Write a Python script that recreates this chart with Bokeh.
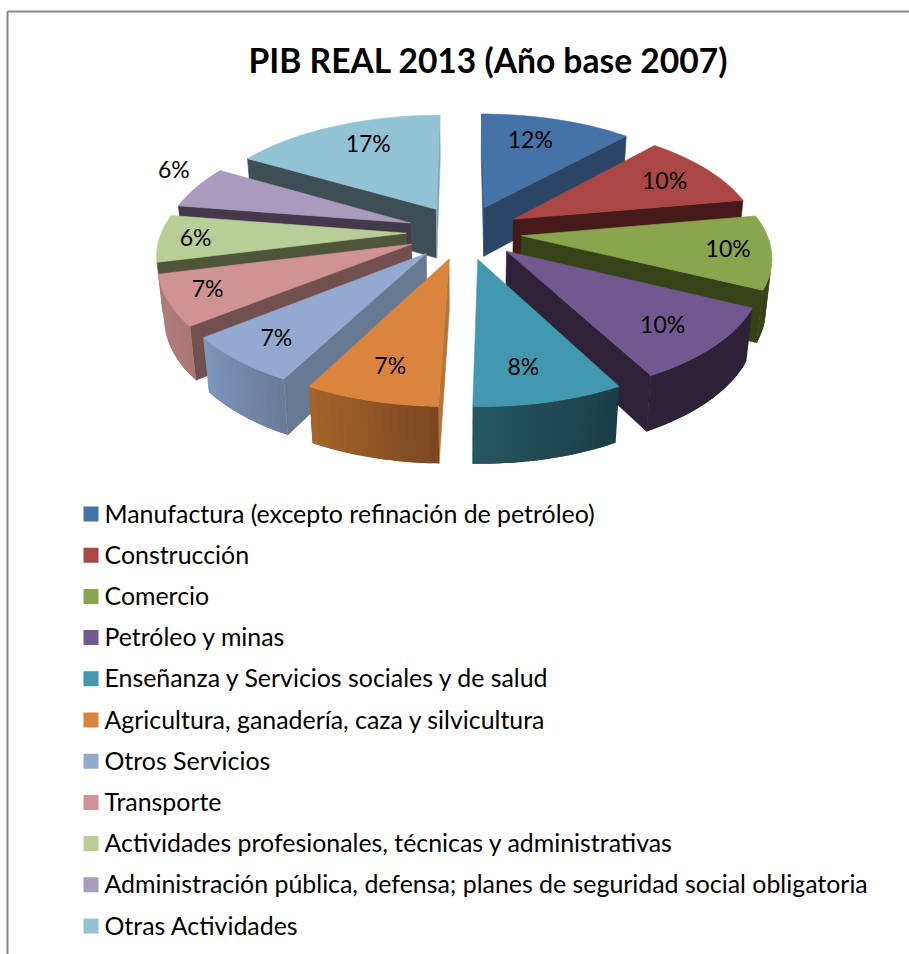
import math

from bokeh.core.properties import value
from bokeh.embed import file_html
from bokeh.models import Range1d
from bokeh.plotting import figure
from bokeh.resources import INLINE

TITLE = "PIB REAL 2013 (Año base 2007)"

sectors = [
    "Manufactura (excepto refinación de petróleo)",
    "Construcción",
    "Comercio",
    "Petróleo y minas",
    "Enseñanza  y Servicios sociales y de salud",
    "Agricultura, ganadería, caza y silvicultura",
    "Otros Servicios",
    "Transporte",
    "Actividades profesionales, técnicas y administrativas",
    "Administración pública, defensa; planes de seguridad social obligatoria",
    "Otras Actividades",
]
shares = [11.8, 10.4, 10.0, 10.0, 8.2, 7.3, 6.6, 6.8, 6.4, 5.9, 16.6]

top_colors = ["#4572A7", "#AA4643", "#89A54E", "#71588F", "#4198AF", "#DB843D",
              "#93A9CF", "#D19392", "#B9CD96", "#A99BBD", "#92C3D5"]
start_wall_colors = ["#36598A", "#451A18", "#384219", "#2D2238", "#2F6F80", "#B87434",
                     "#667A94", "#725050", "#4F5637", "#423A4A", "#3D4F55"]
end_wall_colors = ["#2B4566", "#451A18", "#384219", "#2D2238", "#2F6F80", "#7A4722",
                   "#667A94", "#725050", "#4F5637", "#423A4A", "#7FA9B9"]
rim_start_colors = ["#2B4566", "#451A18", "#384219", "#2D2238", "#1A3D47", "#7A4722",
                    "#697B9B", "#A97676", "#8A9A70", "#7A7088", "#6A8E9B"]
rim_end_colors = ["#2B4566", "#451A18", "#384219", "#2D2238", "#255661", "#A5652B",
                  "#7D97BA", "#B47F7E", "#9DAF80", "#7A7088", "#6A8E9B"]

# Radial position of each percentage label and its turn away from the slice bisector.
label_reach = [0.74, 0.77, 0.83, 0.78, 0.77, 0.78, 0.81, 0.84, 0.855, 1.19, 0.75]
label_turn = [-3.6, 0.0, -1.0, 1.0, 2.0, 0.0, 0.5, 1.5, 0.5, 6.0, 4.0]

# Camera used to project the exploded pie on to the page (pixel space).
CENTER_X, CENTER_Y = 463.5, 231.5
SCALE = 244.8
DISTANCE = 5.7
TILT = math.asin(0.47)
EXPLODE = 0.235
THICKNESS = 0.235
STEP_DEG = 1.5


def project(x, y, z=0.0):
    v = y * math.sin(TILT) + z * math.cos(TILT)
    d = y * math.cos(TILT) - z * math.sin(TILT)
    k = SCALE * DISTANCE / (DISTANCE + d)
    return CENTER_X + k * x, CENTER_Y - k * v


def polar(theta_deg, radius=1.0):
    t = math.radians(theta_deg)
    return radius * math.sin(t), radius * math.cos(t)


def shoelace(points):
    total = 0.0
    for (x0, y0), (x1, y1) in zip(points, points[1:] + points[:1]):
        total += x0 * y1 - x1 * y0
    return total


def mix(a, b, t):
    ca = [int(a[i:i + 2], 16) for i in (1, 3, 5)]
    cb = [int(b[i:i + 2], 16) for i in (1, 3, 5)]
    return "#" + "".join(f"{round(p + (q - p) * t):02X}" for p, q in zip(ca, cb))


p = figure(width=909, height=954, output_backend="svg", toolbar_location=None,
           x_range=Range1d(0, 909), y_range=Range1d(954, 0),
           min_border=0, outline_line_color=None, background_fill_color="white",
           border_fill_color="white")
p.axis.visible = False
p.grid.visible = False

# Chart frame: only the top and left edges fall inside the page.
p.line([7, 7], [954, 11], line_color="#868686", line_width=2)
p.line([7, 909], [11, 11], line_color="#868686", line_width=2)

p.text([488], [59], text=[TITLE], text_font=value("Lato"), text_font_style="bold",
       text_font_size="33.6px", text_align="center", text_baseline="middle", text_color="black")

total = sum(shares)
slices = []
running = 0.0
for i, share in enumerate(shares):
    start = running / total * 360.0
    running += share
    end = running / total * 360.0
    slices.append((i, start, end, (start + end) / 2))


def depth(item):
    return math.cos(math.radians(item[3]))


# Painter's order: slices further from the camera are drawn first.
for i, start, end, mid in sorted(slices, key=depth, reverse=True):
    ox, oy = polar(mid, EXPLODE)
    count = max(2, int((end - start) / STEP_DEG))
    angles = [start + (end - start) * n / count for n in range(count + 1)]
    rim = [polar(a) for a in angles]
    top_rim = [project(ox + x, oy + y) for x, y in rim]
    low_rim = [project(ox + x, oy + y, -THICKNESS) for x, y in rim]
    apex_top = project(ox, oy)
    apex_low = project(ox, oy, -THICKNESS)

    xs, ys, colors = [], [], []

    def add(points, color):
        xs.append([q[0] for q in points])
        ys.append([q[1] for q in points])
        colors.append(color)

    start_face = [apex_top, top_rim[0], low_rim[0], apex_low]
    end_face = [apex_top, top_rim[-1], low_rim[-1], apex_low]
    if shoelace(start_face) < 0:
        add(start_face, start_wall_colors[i])
    if shoelace(end_face) > 0:
        add(end_face, end_wall_colors[i])

    # Outer wall: shaded strips, each running under the next so no seams show.
    sx_list, sy_list, strip_colors = [], [], []
    for n in range(count):
        last = min(n + 2, count)
        strip = [top_rim[n]] + top_rim[n + 1:last + 1] + low_rim[n + 1:last + 1][::-1] + [low_rim[n]]
        probe = [top_rim[n], top_rim[n + 1], low_rim[n + 1], low_rim[n]]
        if shoelace(probe) < 0:
            sx_list.append([q[0] for q in strip])
            sy_list.append([q[1] for q in strip])
            strip_colors.append(mix(rim_start_colors[i], rim_end_colors[i], (n + 0.5) / count))

    if xs:
        p.patches(xs, ys, fill_color=colors, line_color=colors, line_width=0.6)
    if sx_list:
        p.patches(sx_list, sy_list, fill_color=strip_colors, line_color=None)
    p.patches([[apex_top[0]] + [q[0] for q in top_rim]], [[apex_top[1]] + [q[1] for q in top_rim]],
              fill_color=top_colors[i], line_color=top_colors[i], line_width=0.6)

# Percentage labels, rounded from the same shares the slices are drawn with.
for i, start, end, mid in slices:
    ox, oy = polar(mid, EXPLODE)
    lx, ly = polar(mid + label_turn[i], label_reach[i])
    sx, sy = project(ox + lx, oy + ly)
    p.text([sx], [sy], text=[f"{round(shares[i] / total * 100)}%"], text_font=value("Lato"),
           text_font_size="23px", text_align="center", text_baseline="middle", text_color="black")

# Legend column.
LEGEND_TOP, LEGEND_STEP = 513.5, 41.2
for i, name in enumerate(sectors):
    cy = LEGEND_TOP + i * LEGEND_STEP
    p.quad(left=[83], right=[98], top=[cy - 7.5], bottom=[cy + 7.5],
           fill_color=top_colors[i], line_color=None)
    p.text([104], [cy - 1.5], text=[name], text_font=value("Lato"), text_font_size="24.9px",
           text_align="left", text_baseline="middle", text_color="black")

open("out.html", "w").write(file_html(p, INLINE))
